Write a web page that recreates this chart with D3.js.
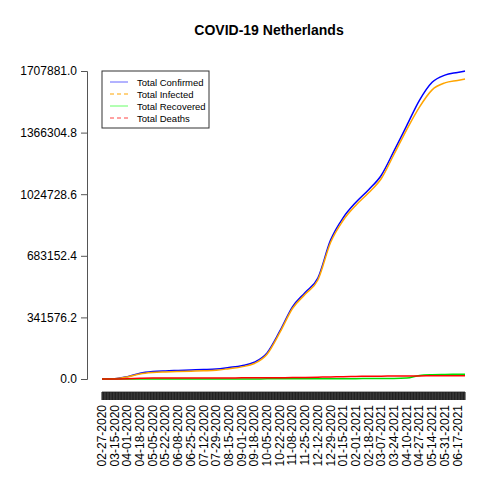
<!DOCTYPE html>
<html><head><meta charset="utf-8">
<script src="https://cdn.jsdelivr.net/npm/d3@7"></script>
<style>body{margin:0;background:#fff}</style></head>
<body><svg id="c" width="480" height="480"></svg>
<script>
const dates = ["02-27-2020","03-15-2020","04-01-2020","04-18-2020","05-05-2020","05-22-2020","06-08-2020","06-25-2020","07-12-2020","07-29-2020","08-15-2020","09-01-2020","09-18-2020","10-05-2020","10-22-2020","11-08-2020","11-25-2020","12-12-2020","12-29-2020","01-15-2021","02-01-2021","02-18-2021","03-07-2021","03-24-2021","04-10-2021","04-27-2021","05-14-2021","05-31-2021","06-17-2021","06-27-2021"];
const confirmed = [1,1500,13000,32000,41000,45000,47500,50000,52000,55000,64000,74000,93000,145000,265000,400000,480000,560000,770000,895000,980000,1050000,1130000,1265000,1405000,1545000,1645000,1685000,1700000,1707881];
const recovered = [0,0,100,200,250,300,300,300,350,400,450,500,600,700,800,900,1000,1200,1500,1800,2000,2200,2400,2600,5000,20000,24000,25500,26500,26800];
const deaths = [0,10,1200,3600,5100,5800,6000,6100,6150,6150,6200,6250,6300,6500,7000,8000,9000,10000,11500,13000,14200,15000,15700,16300,16800,17300,17600,17700,17750,17800];
const infected = confirmed.map((c,i)=>Math.max(0,c-recovered[i]-deaths[i]));
const yTicks = [0,341576.2,683152.4,1024728.6,1366304.8,1707881.0];

const parse = d3.timeParse("%m-%d-%Y");
const D = dates.map(parse);
const svg = d3.select("#c");
const x = d3.scaleTime().domain([D[0], D[D.length-1]]).range([102,465]);
const y = d3.scaleLinear().domain([0,1707881]).range([379,71]);

svg.append("text").attr("x",269).attr("y",35).attr("text-anchor","middle")
  .attr("font-family","Liberation Sans, Arial").attr("font-weight","bold").attr("font-size",14).text("COVID-19 Netherlands");

const ya = svg.append("g").attr("transform","translate(87,0)")
  .call(d3.axisLeft(y).tickValues(yTicks).tickFormat(d3.format(".1f")).tickSize(6).tickPadding(4));
ya.selectAll("path,line").attr("stroke","#555");
ya.selectAll("text").attr("font-family","Liberation Sans, Arial").attr("font-size",12).attr("fill","#000");

const days = d3.timeDay.range(D[0], d3.timeDay.offset(D[D.length-1],1));
const xa = svg.append("g").attr("transform","translate(0,392)");
xa.append("line").attr("x1",x(D[0])).attr("x2",x(D[D.length-1])).attr("stroke","#555");
xa.selectAll("line.t").data(days).join("line").attr("class","t")
  .attr("x1",d=>x(d)).attr("x2",d=>x(d)).attr("y1",0).attr("y2",8).attr("stroke","#222").attr("stroke-width",1.1);
xa.selectAll("text").data(D.slice(0,-1)).join("text")
  .attr("transform",d=>`translate(${x(d)+4},13) rotate(-90)`)
  .attr("text-anchor","end").attr("font-family","Liberation Sans, Arial").attr("font-size",12)
  .text((d,i)=>dates[i]);

const line = arr => d3.line().x((d,i)=>x(D[i])).y(d=>y(d)).curve(d3.curveMonotoneX)(arr);
svg.append("path").attr("d",line(confirmed)).attr("fill","none").attr("stroke","blue").attr("stroke-width",1.5);
svg.append("path").attr("d",line(infected)).attr("fill","none").attr("stroke","orange").attr("stroke-width",1.5);
svg.append("path").attr("d",line(recovered)).attr("fill","none").attr("stroke","#00dd00").attr("stroke-width",1.5);
svg.append("path").attr("d",line(deaths)).attr("fill","none").attr("stroke","red").attr("stroke-width",1.5);

const lg = svg.append("g");
lg.append("rect").attr("x",102).attr("y",71).attr("width",107).attr("height",57).attr("fill","#fff").attr("stroke","#333");
const items = [["Total Confirmed","#6666ff",null],["Total Infected","orange","4,3"],["Total Recovered","#66ff66",null],["Total Deaths","#ff4444","4,3"]];
items.forEach((it,i)=>{
  const yy = 82+i*12;
  lg.append("line").attr("x1",110).attr("x2",128).attr("y1",yy).attr("y2",yy).attr("stroke",it[1]).attr("stroke-dasharray",it[2]);
  lg.append("text").attr("x",137).attr("y",yy+3.5).attr("font-family","Liberation Sans, Arial").attr("font-size",9.5).text(it[0]);
});
</script></body></html>
